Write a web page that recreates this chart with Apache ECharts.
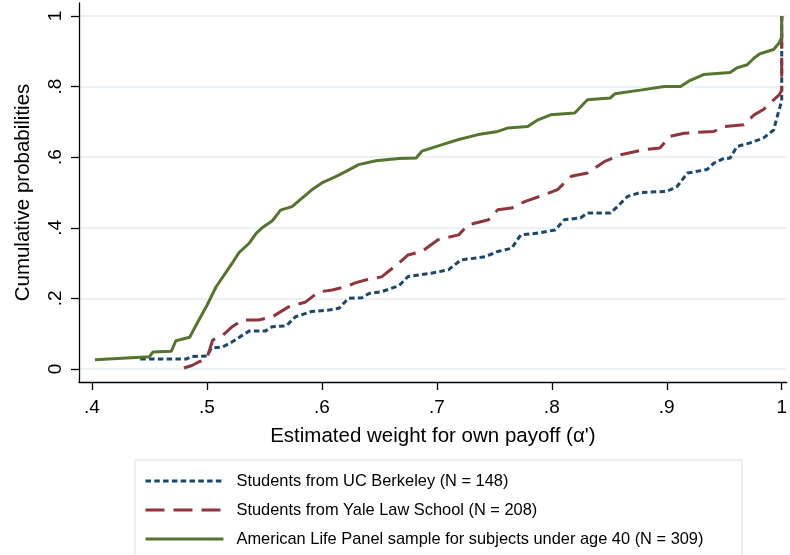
<!DOCTYPE html>
<html>
<head>
<meta charset="utf-8">
<script src="https://cdn.jsdelivr.net/npm/echarts@6/dist/echarts.min.js"></script>
<style>
html,body{margin:0;padding:0;background:#fff;}
#chart{width:790px;height:555px;}
</style>
</head>
<body>
<div id="chart"></div>
<script>
// ---- Data ----
const seriesNames = [
  'Students from UC Berkeley (N = 148)',
  'Students from Yale Law School (N = 208)',
  'American Life Panel sample for subjects under age 40 (N = 309)'
];
const xTickValues = [0.4, 0.5, 0.6, 0.7, 0.8, 0.9, 1];
const yTickValues = [0, 0.2, 0.4, 0.6, 0.8, 1];

const berkeleyX = [0.442,0.482,0.486,0.5,0.504,0.514,0.522,0.531,0.537,0.551,0.557,0.569,0.577,0.591,0.606,0.615,0.623,0.635,0.641,0.652,0.667,0.675,0.695,0.71,0.721,0.742,0.753,0.765,0.773,0.788,0.803,0.811,0.825,0.831,0.851,0.857,0.866,0.877,0.9,0.909,0.918,0.935,0.941,0.95,0.955,0.961,0.972,0.984,0.993,0.997,1.0,1.0];
const berkeleyY = [0.028,0.028,0.035,0.037,0.059,0.063,0.077,0.096,0.108,0.108,0.12,0.122,0.148,0.163,0.167,0.172,0.2,0.202,0.214,0.219,0.236,0.262,0.271,0.281,0.309,0.318,0.333,0.342,0.38,0.385,0.394,0.423,0.428,0.442,0.442,0.46,0.489,0.5,0.503,0.517,0.555,0.565,0.583,0.597,0.597,0.63,0.64,0.654,0.677,0.726,0.76,1.0];

const yaleX = [0.48,0.487,0.493,0.5,0.505,0.514,0.522,0.531,0.545,0.557,0.571,0.586,0.597,0.609,0.621,0.629,0.638,0.652,0.667,0.675,0.687,0.701,0.719,0.727,0.745,0.753,0.765,0.777,0.794,0.805,0.817,0.831,0.846,0.86,0.88,0.894,0.903,0.915,0.941,0.95,0.967,0.976,0.984,0.998,1.0,1.0];
const yaleY = [0.003,0.01,0.02,0.03,0.082,0.096,0.12,0.139,0.139,0.148,0.176,0.19,0.218,0.224,0.233,0.244,0.252,0.261,0.30,0.323,0.333,0.366,0.38,0.408,0.423,0.451,0.456,0.475,0.494,0.508,0.546,0.555,0.588,0.607,0.621,0.626,0.659,0.668,0.673,0.687,0.692,0.72,0.735,0.777,0.79,1.0];

const alpX = [0.4026,0.45,0.453,0.469,0.473,0.485,0.493,0.5,0.508,0.517,0.522,0.528,0.537,0.543,0.548,0.557,0.564,0.574,0.583,0.591,0.6,0.612,0.621,0.632,0.647,0.667,0.682,0.687,0.704,0.719,0.736,0.753,0.762,0.779,0.788,0.799,0.82,0.831,0.851,0.855,0.877,0.898,0.912,0.92,0.932,0.955,0.961,0.97,0.976,0.981,0.993,0.998,1.0,1.0];
const alpY = [0.026,0.035,0.048,0.05,0.08,0.09,0.139,0.18,0.233,0.276,0.30,0.33,0.357,0.385,0.40,0.42,0.45,0.46,0.485,0.507,0.527,0.545,0.56,0.579,0.59,0.596,0.598,0.617,0.635,0.65,0.664,0.673,0.683,0.687,0.706,0.72,0.725,0.763,0.768,0.78,0.79,0.80,0.80,0.817,0.834,0.84,0.853,0.862,0.881,0.893,0.905,0.925,0.94,1.0];

// ---- Chart ----
function pairs(xs, ys) { return xs.map((x, i) => [x, ys[i]]); }
function fmt(v) {
  if (v === 0) return '0';
  if (v === 1) return '1';
  return String(+v.toFixed(1)).replace(/^0/, '');
}
const FONT = "'Liberation Sans', Arial, sans-serif";
const colors = ['#1a476f', '#90353b', '#55752f'];
const dashes = [[5.5, 3.3], [19, 9], 'solid'];
const datasets = [pairs(berkeleyX, berkeleyY), pairs(yaleX, yaleY), pairs(alpX, alpY)];

const chart = echarts.init(document.getElementById('chart'), null, {renderer: 'canvas'});
chart.setOption({
  backgroundColor: '#fff',
  animation: false,
  textStyle: {fontFamily: FONT},
  grid: {left: 79, right: 0, top: 3, bottom: 173, containLabel: false},
  xAxis: {
    type: 'value',
    min: 0.38874, max: 1.00433,
    axisLine: {show: true, onZero: false, lineStyle: {color: '#000', width: 1.3}},
    axisTick: {show: true, customValues: xTickValues, length: 8, lineStyle: {color: '#000', width: 1.3}},
    axisLabel: {customValues: xTickValues, formatter: fmt, fontSize: 19, color: '#000', margin: 16, fontFamily: FONT},
    splitLine: {show: false},
    name: 'Estimated weight for own payoff (α\')',
    nameLocation: 'middle', nameGap: 44,
    nameTextStyle: {fontSize: 20.5, color: '#000', fontFamily: FONT}
  },
  yAxis: {
    type: 'value',
    min: -0.0368, max: 1.0368,
    axisLine: {show: true, onZero: false, lineStyle: {color: '#000', width: 1.3}},
    axisTick: {show: true, customValues: yTickValues, length: 8, lineStyle: {color: '#000', width: 1.3}},
    axisLabel: {customValues: yTickValues, formatter: fmt, fontSize: 19, color: '#000', margin: 14, rotate: 90, fontFamily: FONT},
    splitLine: {show: true, lineStyle: {color: '#e4edf0', width: 1.6}},
    name: 'Cumulative probabilities',
    nameLocation: 'middle', nameGap: 45, nameRotate: 90,
    nameTextStyle: {fontSize: 20.5, color: '#000', fontFamily: FONT}
  },
  legend: {
    orient: 'vertical',
    left: 139, top: 468,
    itemWidth: 78, itemHeight: 14, itemGap: 13,
    itemStyle: {opacity: 0},
    lineStyle: {width: 3},
    textStyle: {fontSize: 16.4, color: '#000', fontFamily: FONT, padding: [0, 0, 0, 8]},
    data: seriesNames
  },
  graphic: [{
    type: 'rect', silent: true,
    shape: {x: 135, y: 460, width: 607, height: 120},
    style: {fill: 'none', stroke: '#e3ecf1', lineWidth: 1.5}
  }],
  series: datasets.map((d, i) => ({
    name: seriesNames[i],
    type: 'line',
    data: d,
    symbol: 'none',
    showSymbol: false,
    z: 2 + i,
    lineStyle: {color: colors[i], width: 3, type: dashes[i]},
    itemStyle: {color: colors[i]}
  }))
});
</script>
</body>
</html>
